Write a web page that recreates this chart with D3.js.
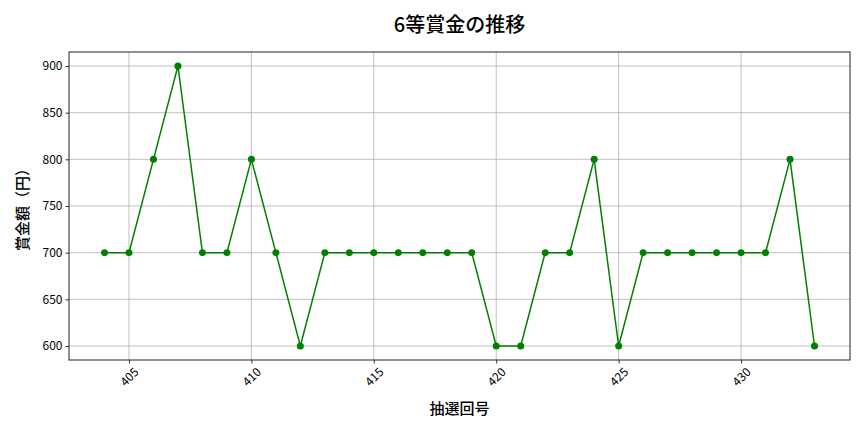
<!DOCTYPE html>
<html>
<head>
<meta charset="utf-8" />
<title>6等賞金の推移</title>
<script src="https://d3js.org/d3.v7.min.js"></script>
<style>
  body { margin: 0; background: #fff; }
  svg text { font-family: "Noto Sans CJK JP", "Noto Sans", sans-serif; fill: #000; }
</style>
</head>
<body>
<div id="chart"></div>
<script>
// draw numbers and 6th prize amounts (yen)
var draws = [404, 405, 406, 407, 408, 409, 410, 411, 412, 413, 414, 415, 416, 417, 418,
             419, 420, 421, 422, 423, 424, 425, 426, 427, 428, 429, 430, 431, 432, 433];
var prizes = [700, 700, 800, 900, 700, 700, 800, 700, 600, 700, 700, 700, 700, 700, 700,
              700, 600, 600, 700, 700, 800, 600, 700, 700, 700, 700, 700, 700, 800, 600];
var xTicks = [405, 410, 415, 420, 425, 430];
var yTicks = [600, 650, 700, 750, 800, 850, 900];

var W = 864, H = 432;
var margin = {top: 52, right: 14, bottom: 72, left: 69},
    width = W - margin.left - margin.right,
    height = H - margin.top - margin.bottom;

var svg = d3.select("#chart").append("svg")
    .attr("width", W)
    .attr("height", H);

var g = svg.append("g")
    .attr("transform", "translate(" + margin.left + "," + margin.top + ")");

// matplotlib style 5% padding
var xmin = d3.min(draws), xmax = d3.max(draws), xpad = (xmax - xmin) * 0.05;
var ymin = d3.min(prizes), ymax = d3.max(prizes), ypad = (ymax - ymin) * 0.05;

var x = d3.scaleLinear().domain([xmin - xpad, xmax + xpad]).range([0, width]);
var y = d3.scaleLinear().domain([ymin - ypad, ymax + ypad]).range([height, 0]);

// grid
g.append("g").selectAll("line").data(xTicks).enter().append("line")
    .attr("x1", function(d) { return x(d); })
    .attr("x2", function(d) { return x(d); })
    .attr("y1", 0).attr("y2", height)
    .attr("stroke", "#b0b0b0").attr("stroke-width", 0.8);
g.append("g").selectAll("line").data(yTicks).enter().append("line")
    .attr("y1", function(d) { return y(d); })
    .attr("y2", function(d) { return y(d); })
    .attr("x1", 0).attr("x2", width)
    .attr("stroke", "#b0b0b0").attr("stroke-width", 0.8);

// axes
var xAxis = g.append("g")
    .attr("transform", "translate(0," + height + ")")
    .call(d3.axisBottom(x).tickValues(xTicks).tickSize(3.5).tickSizeOuter(0).tickFormat(d3.format("d")));
// rotated labels, centred under the tick like matplotlib rotation=45
xAxis.selectAll("text")
    .attr("font-size", "12px")
    .attr("text-anchor", "middle")
    .attr("x", 0).attr("y", 0)
    .attr("dy", "0.35em")
    .attr("transform", "translate(0,17) rotate(-45)");

var yAxis = g.append("g")
    .call(d3.axisLeft(y).tickValues(yTicks).tickSize(3.5).tickSizeOuter(0));
yAxis.selectAll("text").attr("font-size", "12px");

g.selectAll(".domain").remove();
g.selectAll(".tick line").attr("stroke", "#000").attr("stroke-width", 0.8);

// frame
g.append("rect")
    .attr("width", width).attr("height", height)
    .attr("fill", "none").attr("stroke", "#222").attr("stroke-width", 1);

// line + markers
var line = d3.line()
    .x(function(d, i) { return x(draws[i]); })
    .y(function(d) { return y(d); });

g.append("path")
    .datum(prizes)
    .attr("d", line)
    .attr("fill", "none")
    .attr("stroke", "#008000")
    .attr("stroke-width", 1.5);

g.selectAll(".dot").data(prizes).enter().append("circle")
    .attr("class", "dot")
    .attr("cx", function(d, i) { return x(draws[i]); })
    .attr("cy", function(d) { return y(d); })
    .attr("r", 3.5)
    .attr("fill", "#008000");

// title and labels
svg.append("text")
    .attr("x", margin.left + width / 2).attr("y", 32)
    .attr("text-anchor", "middle")
    .attr("font-size", "20px")
    .attr("font-weight", 500)
    .text("6等賞金の推移");

svg.append("text")
    .attr("x", margin.left + width / 2).attr("y", 414)
    .attr("text-anchor", "middle")
    .attr("font-size", "15px")
    .attr("font-weight", 500)
    .text("抽選回号");

svg.append("text")
    .attr("transform", "translate(28," + (margin.top + height / 2) + ") rotate(-90)")
    .attr("text-anchor", "middle")
    .attr("font-size", "15px")
    .attr("font-weight", 500)
    .text("賞金額（円）");
</script>
</body>
</html>
